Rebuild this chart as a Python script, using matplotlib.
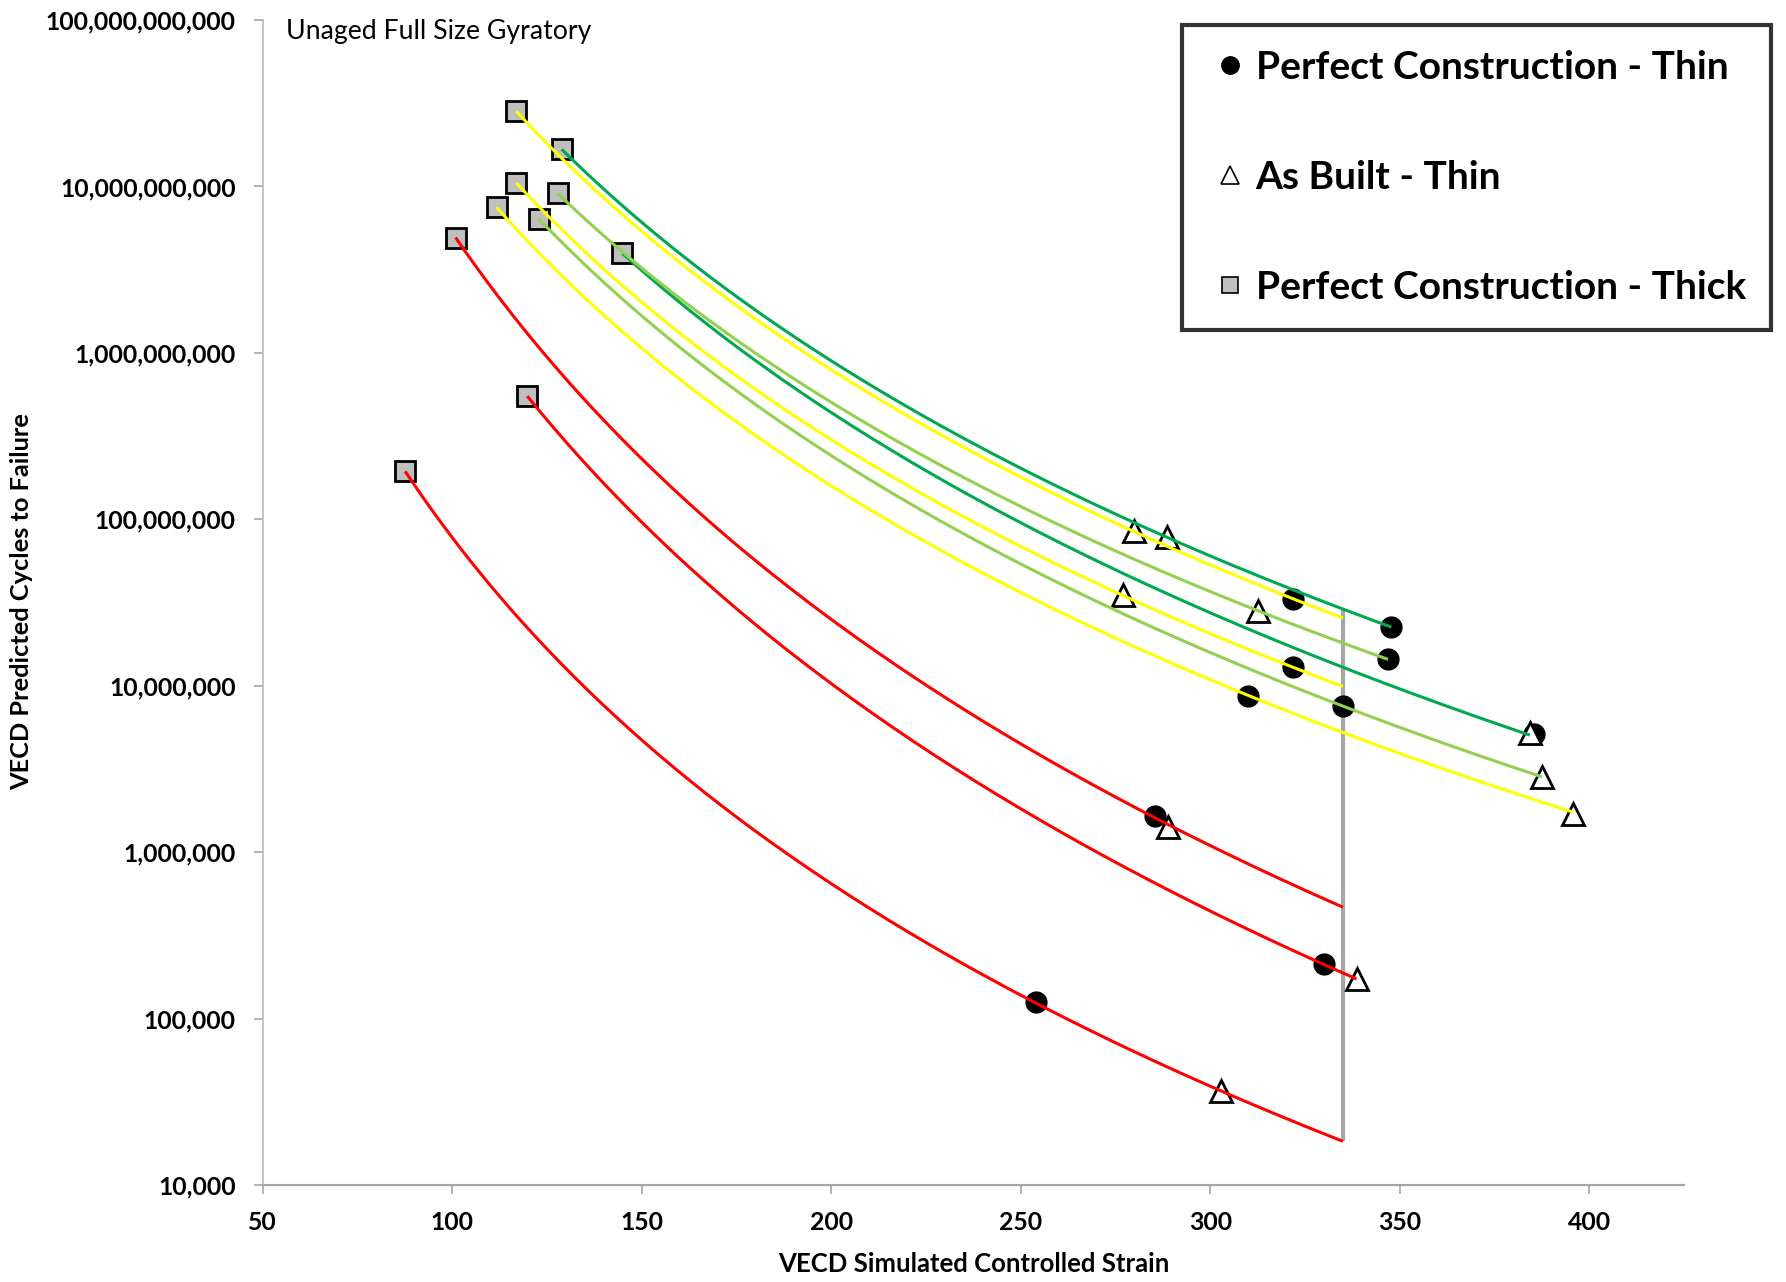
import numpy as np
import matplotlib
matplotlib.use("Agg")
import matplotlib.pyplot as plt
from matplotlib.ticker import FuncFormatter, FixedLocator, NullLocator
from matplotlib.lines import Line2D

# ---------------- data ----------------
thick_x = [87.6, 100.9, 111.7, 116.9, 116.9, 119.8, 122.8, 127.8, 128.9, 144.9]
thick_y = [1.94e8, 4.93e9, 7.5e9, 2.83e10, 1.05e10, 5.5e8, 6.4e9, 9.1e9, 1.67e10, 3.96e9]

perfect_thin_x = [254.0, 285.4, 310.0, 321.9, 321.9, 330.0, 335.0, 346.9, 347.8, 385.4]
perfect_thin_y = [1.26e5, 1.65e6, 8.7e6, 3.33e7, 1.3e7, 2.14e5, 7.6e6, 1.44e7, 2.25e7, 5.1e6]

asbuilt_thin_x = [276.9, 279.9, 288.6, 288.9, 302.8, 312.6, 338.6, 384.3, 387.6, 395.7]
asbuilt_thin_y = [3.5e7, 8.5e7, 7.8e7, 1.42e6, 3.66e4, 2.8e7, 1.73e5, 5.2e6, 2.83e6, 1.7e6]

# power-law trend curves (N = a * strain^-b), given by their end points
trend_x_start = [87.6, 100.9, 119.8, 116.9, 116.9, 111.7, 128.9, 144.9, 127.8, 122.8]
trend_y_start = [1.94e8, 4.93e9, 5.5e8, 2.83e10, 1.05e10, 7.5e9, 1.67e10, 3.96e9, 9.1e9, 6.4e9]
trend_x_end = [335.0, 335.0, 338.6, 335.0, 335.0, 395.7, 347.8, 384.3, 346.9, 387.6]
trend_y_end = [1.83e4, 4.67e5, 1.73e5, 2.55e7, 9.9e6, 1.74e6, 2.25e7, 5.05e6, 1.44e7, 2.83e6]
trend_colors = ["#FF0000", "#FF0000", "#FF0000",
                "#FFFF00", "#FFFF00", "#FFFF00",
                "#00A850", "#00A850",
                "#92D050", "#92D050"]

ref_line_x = [335.0, 335.0]
ref_line_y = [1.83e4, 2.9e7]

x_ticks = [50, 100, 150, 200, 250, 300, 350, 400]
y_ticks = [1e4, 1e5, 1e6, 1e7, 1e8, 1e9, 1e10, 1e11]

legend_labels = ["Perfect Construction - Thin", "As Built - Thin", "Perfect Construction - Thick"]

# ---------------- figure ----------------
plt.rcParams['font.family'] = ['Lato', 'DejaVu Sans']
W, H = 1786, 1282
fig = plt.figure(figsize=(W / 100, H / 100), dpi=100)
ax_l, ax_r, ax_t, ax_b = 262.7, 1684, 20, 1185
ax = fig.add_axes([ax_l / W, 1 - ax_b / H, (ax_r - ax_l) / W, (ax_b - ax_t) / H])

ax.set_xscale('linear')
ax.set_yscale('log')
ax.set_xlim(50, 425)
ax.set_ylim(1e4, 1e11)

# trend curves
for x0, y0, x1, y1, c in zip(trend_x_start, trend_y_start, trend_x_end, trend_y_end, trend_colors):
    b = np.log10(y0 / y1) / np.log10(x1 / x0)
    a = y0 * x0 ** b
    xs = np.linspace(x0, x1, 200)
    ax.plot(xs, a * xs ** (-b), color=c, lw=2.2, zorder=4, solid_capstyle='butt')

ax.plot(ref_line_x, ref_line_y, color='#A6A6A6', lw=3, zorder=3, solid_capstyle='butt')

ax.plot(thick_x, thick_y, ls='none', marker='s', ms=14, mfc='#BFBFBF', mec='black', mew=2, zorder=3)
ax.plot(perfect_thin_x, perfect_thin_y, ls='none', marker='o', ms=15, mfc='black', mec='black', mew=1, zorder=3)
ax.plot(asbuilt_thin_x, asbuilt_thin_y, ls='none', marker='^', ms=15.5, mfc='white', mec='black', mew=2, zorder=3)

# axes styling
for s in ['top', 'right']:
    ax.spines[s].set_visible(False)
ax.spines['left'].set_color('#BFBFBF')
ax.spines['bottom'].set_color('#A6A6A6')
ax.spines['left'].set_linewidth(1.3)
ax.spines['bottom'].set_linewidth(1.6)

ax.xaxis.set_major_locator(FixedLocator(x_ticks))
ax.yaxis.set_major_locator(FixedLocator(y_ticks))
ax.yaxis.set_minor_locator(NullLocator())
ax.yaxis.set_major_formatter(FuncFormatter(lambda v, p: f"{int(round(v)):,}"))
ax.xaxis.set_major_formatter(FuncFormatter(lambda v, p: f"{int(round(v))}"))
ax.tick_params(axis='both', direction='out', length=6.5, width=1.2, colors='#A6A6A6',
               labelcolor='black', labelsize=17.8)
ax.tick_params(axis='y', pad=13)
ax.tick_params(axis='x', pad=12)
for lab in ax.get_xticklabels() + ax.get_yticklabels():
    lab.set_fontweight('bold')

fig.text(974 / W, 1 - 1264 / H, "VECD Simulated Controlled Strain", ha='center', va='center',
         fontsize=18.5, fontweight='bold')
fig.text(22 / W, 1 - 602 / H, "VECD Predicted Cycles to Failure", ha='center', va='center',
         rotation=90, fontsize=18.3, fontweight='bold')
ax.text(286 / W, 1 - 32 / H, "Unaged Full Size Gyratory", transform=fig.transFigure,
        ha='left', va='center', fontsize=19.2)

handles = [
    Line2D([], [], ls='none', marker='o', ms=12.5, mfc='black', mec='black'),
    Line2D([], [], ls='none', marker='^', ms=13, mfc='white', mec='black', mew=1.2),
    Line2D([], [], ls='none', marker='s', ms=12, mfc='#BFBFBF', mec='black', mew=1.2),
]
leg = fig.legend(handles, legend_labels, loc='upper left',
                 bbox_to_anchor=(1182 / W, 1 - 25 / H), bbox_transform=fig.transFigure,
                 prop={'family': ['Lato', 'DejaVu Sans'], 'weight': 'bold', 'size': 28},
                 frameon=True, fancybox=False, borderpad=0.64, labelspacing=1.93,
                 handlelength=1.2, handletextpad=0.05, borderaxespad=0, markerscale=1.0)
leg.get_frame().set_edgecolor('black')
leg.get_frame().set_linewidth(3)

fig.savefig("out.png", dpi=100)
